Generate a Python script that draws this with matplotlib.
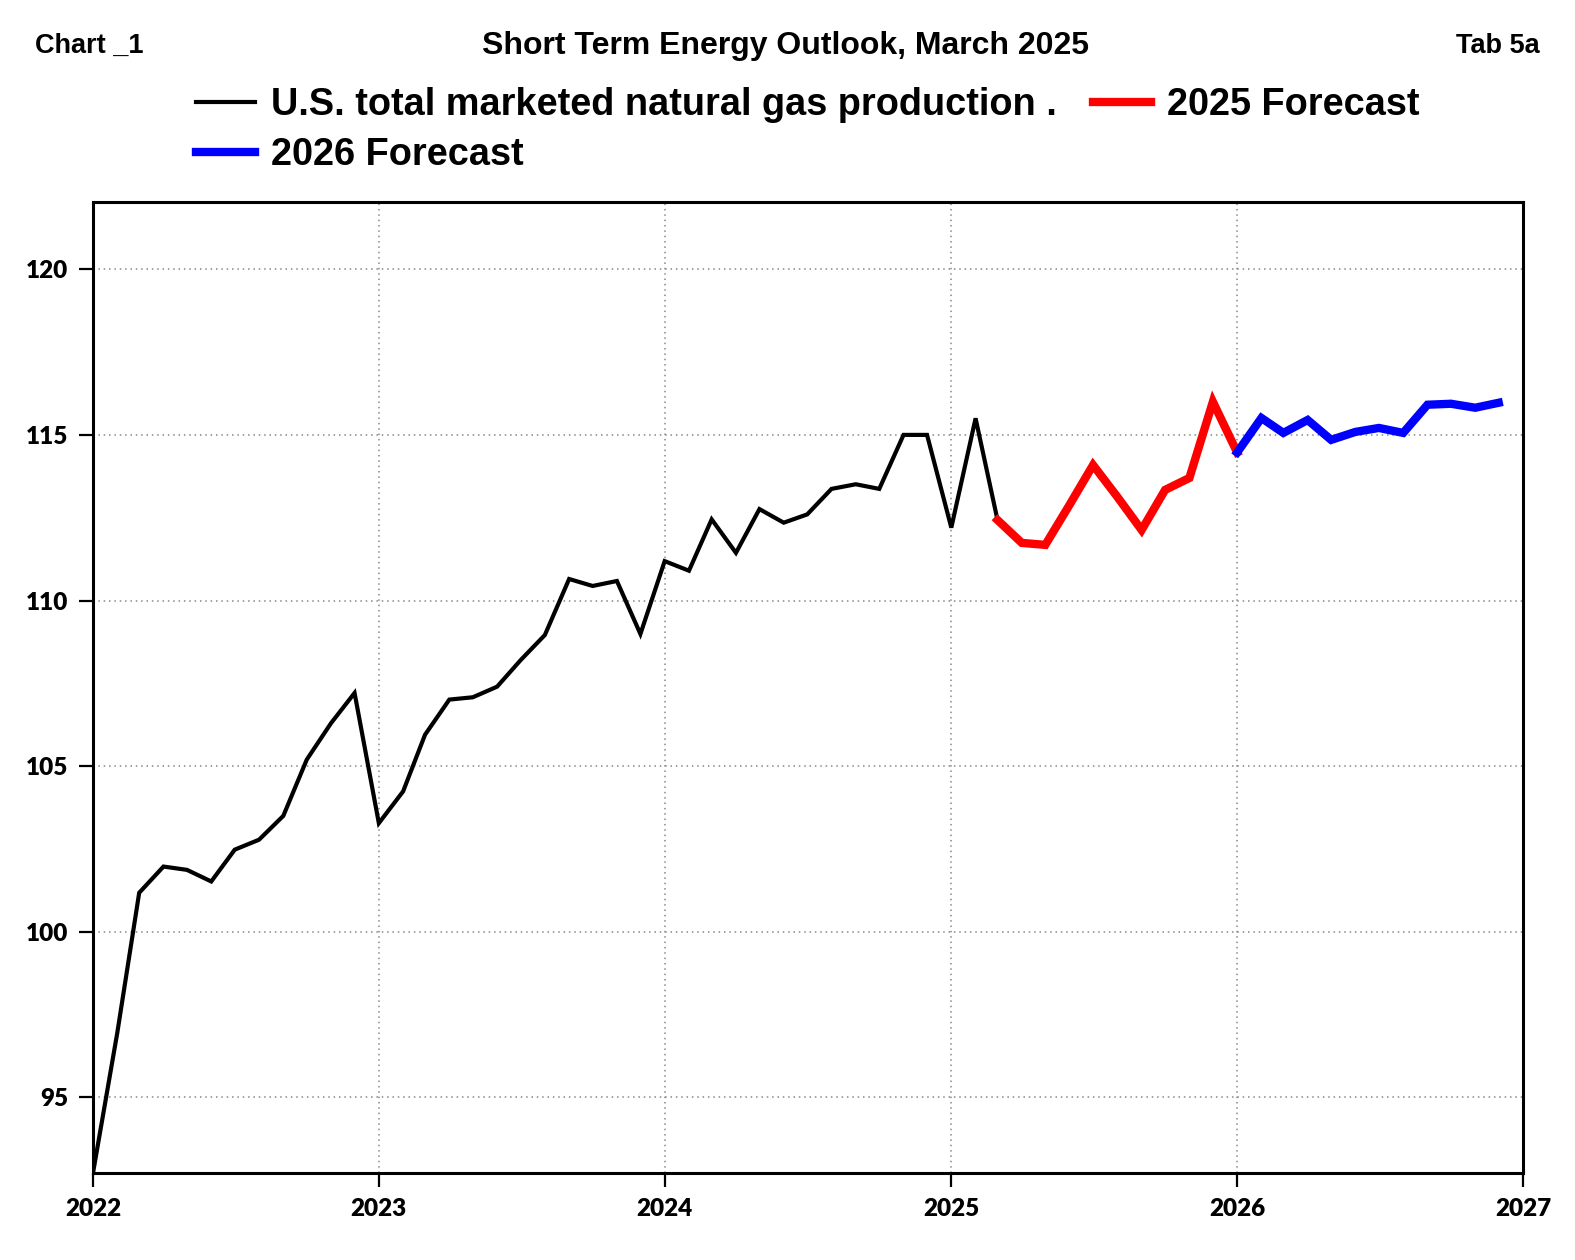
import matplotlib
matplotlib.use("Agg")
import matplotlib.pyplot as plt
import matplotlib.dates as mdates
import pandas as pd

# <------------------------ datos (lectura del gráfico) ------------------------>
months = pd.date_range("2022-01-01", "2026-12-01", freq="MS")

production = [
    92.72, 96.95, 101.18, 101.97, 101.87, 101.52, 102.48, 102.78, 103.50, 105.20, 106.30, 107.21,
    103.28, 104.24, 105.95, 107.01, 107.08, 107.40, 108.20, 108.96, 110.65, 110.44, 110.59, 108.99,
    111.19, 110.90, 112.45, 111.44, 112.76, 112.35, 112.60, 113.37, 113.51, 113.37, 115.00, 115.00,
    112.20, 115.50, 112.43, 111.74, 111.68, 112.89, 114.09, 113.13, 112.13, 113.34, 113.70, 116.00,
    114.47, 115.51, 115.06, 115.45, 114.85, 115.09, 115.21, 115.06, 115.91, 115.94, 115.82, 115.97,
]

hist_end = 38      # último mes histórico (mar 2025)
split_2026 = 48    # ene 2026

series_names = ["U.S. total marketed natural gas production .", "2026 Forecast", "2025 Forecast"]
year_ticks = [2022, 2023, 2024, 2025, 2026, 2027]
y_ticks = [95, 100, 105, 110, 115, 120]

# <------------------------ figura ------------------------>
fig = plt.figure(figsize=(15.75, 12.6), dpi=100)
ax = fig.add_axes([93 / 1575, 1 - 1173 / 1260, (1523 - 93) / 1575, (1173 - 202) / 1260])

black, = ax.plot(months[:hist_end + 1], production[:hist_end + 1], color="black", lw=3.0,
                 solid_joinstyle="miter", zorder=3)
red, = ax.plot(months[hist_end:split_2026 + 1], production[hist_end:split_2026 + 1],
               color="#ff0000", lw=6.0, solid_joinstyle="miter", zorder=3)
blue, = ax.plot(months[split_2026:], production[split_2026:], color="#0000ff", lw=6.0,
                solid_joinstyle="miter", zorder=3)

ax.set_xlim(pd.Timestamp("2022-01-01"), pd.Timestamp("2027-01-01"))
ax.set_ylim(92.72, 122.03)

ax.set_xticks([pd.Timestamp(f"{y}-01-01") for y in year_ticks])
ax.xaxis.set_major_formatter(mdates.DateFormatter("%Y"))
ax.set_yticks(y_ticks)

ax.grid(True, color="#888888", linestyle=(0, (1, 2.5)), lw=1.1)
ax.set_axisbelow(True)
for s in ax.spines.values():
    s.set_linewidth(2.2)

ax.tick_params(axis="both", direction="out", length=10, width=1.6, pad=8)
for lab in ax.get_xticklabels() + ax.get_yticklabels():
    lab.set_fontfamily("Lato")
    lab.set_fontweight("heavy")
    lab.set_fontsize(17.5)

# <------------------------ encabezado ------------------------>
fig.text(35 / 1575, 1 - 46 / 1260, "Chart _1", ha="left", va="center",
         family="Liberation Sans", weight="bold", fontsize=19.5)
fig.text(785 / 1575, 1 - 46 / 1260, "Short Term Energy Outlook, March 2025", ha="center",
         va="center", family="Liberation Sans", weight="bold", fontsize=23)
fig.text(1540 / 1575, 1 - 46 / 1260, "Tab 5a", ha="right", va="center",
         family="Liberation Sans", weight="bold", fontsize=19.5)

leg = fig.legend([black, blue, red], series_names, ncol=2, frameon=False,
                 loc="upper left", bbox_to_anchor=(196 / 1575, 1 - 87 / 1260),
                 borderpad=0, borderaxespad=0, handlelength=1.55, handletextpad=0.42,
                 columnspacing=0.95, labelspacing=0.38,
                 prop={"family": "Liberation Sans", "weight": "bold", "size": 27.3})

plt.savefig("out.png", dpi=100)
